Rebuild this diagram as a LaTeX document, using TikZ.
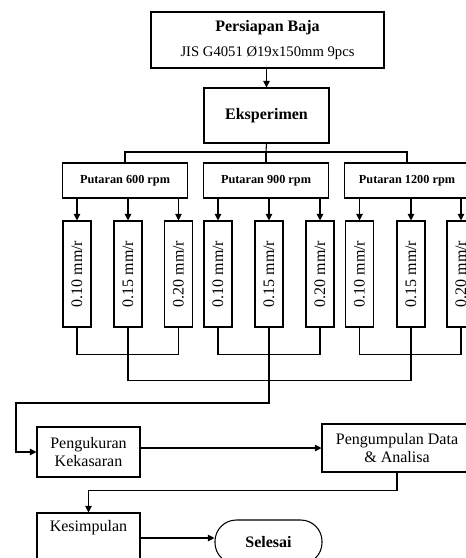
\documentclass[tikz,border=0pt]{standalone}
\usepackage{fontspec}
\setmainfont{Liberation Serif}
\usepackage{graphicx}
\usetikzlibrary{arrows.meta}

\begin{document}
\begin{tikzpicture}[
  x=0.75pt, y=-0.75pt,
  box/.style={draw, line width=0.8pt, inner sep=2pt, align=center, font=\fontsize{12}{13.5}\selectfont},
  rpmbox/.style={box, minimum width=93.75pt, minimum height=26.25pt, font=\fontsize{9.2}{11}\selectfont\bfseries},
  feedbox/.style={box, minimum width=21pt, minimum height=79.5pt, inner sep=0pt},
  wire/.style={line width=0.8pt},
  arr/.style={wire, -{Triangle[length=5pt, width=5pt]}}
]
  \useasboundingbox (0,0) rectangle (466,558);
  \clip (0,0) rectangle (466,558);

  \node[box, minimum width=174.75pt, minimum height=42pt] (baja) at (267.5,40)
    {\textbf{Persiapan Baja}\\[5pt]{\fontsize{11}{13}\selectfont JIS G4051 Ø19x150mm 9pcs}};
  \node[box, minimum width=93.75pt, minimum height=41.25pt, font=\fontsize{12}{14}\selectfont\bfseries] (eks) at (266.5,115.5) {Eksperimen};
  \draw[arr] (baja.south -| eks.north) -- (eks.north);

  \node[rpmbox] (p600) at (125,180.5) {Putaran 600 rpm};
  \node[rpmbox] (p900) at (266,180.5) {Putaran 900 rpm};
  \node[rpmbox] (p1200) at (407,180.5) {Putaran 1200 rpm};

  \coordinate (bus) at (266,152);
  \draw[wire] (eks.south) -- (bus);
  \draw[wire] (p600.north) |- (bus) -| (p1200.north);
  \draw[wire] (bus) -- (p900.north);

  % feed boxes
  \foreach \i/\x/\f in {1/77/0.10, 2/128/0.15, 3/178.5/0.20,
                        4/218/0.10, 5/269/0.15, 6/320/0.20,
                        7/359.5/0.10, 8/411/0.15, 9/461/0.20}
    \node[feedbox] (f\i) at (\x,274) {\rotatebox{90}{\f\ mm/r}};

  \foreach \i in {1,2,3} \draw[arr] (f\i.north |- p600.south) -- (f\i.north);
  \foreach \i in {4,5,6} \draw[arr] (f\i.north |- p900.south) -- (f\i.north);
  \foreach \i in {7,8,9} \draw[arr] (f\i.north |- p1200.south) -- (f\i.north);

  \node[box, minimum width=77.25pt, minimum height=37.5pt] (peng) at (88.5,452) {Pengukuran\\Kekasaran};
  \node[box, minimum width=112.5pt, minimum height=36pt] (data) at (397,448) {Pengumpulan Data\\\& Analisa};
  \node[box, minimum width=77.25pt, minimum height=37.5pt] (kes) at (88.5,538) {Kesimpulan\\\strut};
  \node[box, rounded corners=16pt, minimum width=80.25pt, minimum height=33pt, font=\fontsize{12}{14}\selectfont\bfseries] (sel) at (268.5,542) {Selesai};

  % joining the feed results
  \draw[wire] (f1.south) -- ++(0,27) -| (f3.south);
  \draw[wire] (f4.south) -- ++(0,27) -| (f6.south);
  \draw[wire] (f7.south) -- ++(0,27) -| (f9.south);
  \draw[wire] (f2.south) -- ++(0,53) -| (f8.south);
  \coordinate (back) at (16,403);
  \draw[arr] (f5.south) |- (back) |- (peng.west);

  \draw[arr] (data.west -| peng.east) -- (data.west);
  \draw[arr] (data.south) -- ++(0,18) -| (kes.north);
  \draw[arr] (kes.east) -- (kes.east -| sel.west);
\end{tikzpicture}
\end{document}
